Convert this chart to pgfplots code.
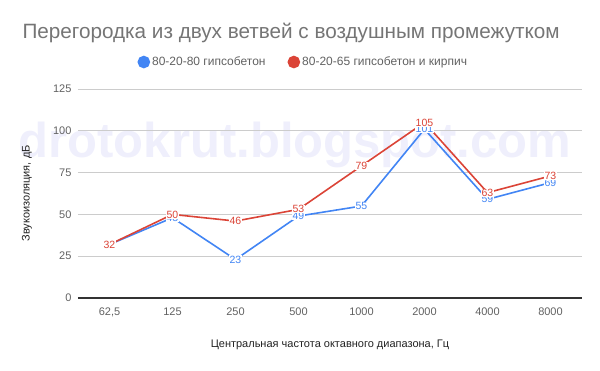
\documentclass[border=0pt]{standalone}
\usepackage{fontspec}
\setmainfont{Liberation Sans}
\usepackage{pgfplots}
\pgfplotsset{compat=1.18}
\definecolor{gblue}{HTML}{4285F4}
\definecolor{gred}{HTML}{DB4437}
\definecolor{wm}{HTML}{EFEFFC}
\definecolor{ttl}{HTML}{757575}
\definecolor{tck}{HTML}{616161}
\definecolor{lbl}{HTML}{222222}
\begin{document}
\begin{tikzpicture}[x=1pt,y=1pt]
\path[use as bounding box] (0pt,0pt) rectangle (600pt,371pt);
\node[anchor=west,text=ttl,font=\fontsize{20.7}{22}\selectfont] at (19pt,338pt) {Перегородка из двух ветвей с воздушным промежутком};
\node[font=\bfseries\fontsize{49}{49}\selectfont,text=wm] at (295pt,226pt) {drotokrut.blogspot.com};
\begin{axis}[
  at={(78pt,73pt)}, anchor=south west, scale only axis,
  width=504pt, height=209pt,
  xmin=-0.5, xmax=7.5, ymin=0, ymax=125,
  xtick={0,...,7},
  xticklabels={{62,5},125,250,500,1000,2000,4000,8000},
  ytick={0,25,50,75,100,125},
  ymajorgrids, grid style={draw=black!20, line width=0.8pt},
  axis x line*=bottom, axis y line*=left,
  x axis line style={-, draw=black!80, line width=1.2pt},
  y axis line style={draw=none},
  major tick length=0pt,
  ticklabel style={text=tck, font=\fontsize{11}{13}\selectfont},
  /pgf/number format/assume math mode=true,
  yticklabel style={xshift=-3pt},
  xticklabel style={yshift=-6pt},
  xlabel={Центральная частота октавного диапазона, Гц},
  ylabel={Звукоизоляция, дБ},
  label style={text=lbl, font=\fontsize{11}{13}\selectfont},
  xlabel style={at={(axis description cs:0.5,0)}, anchor=center, yshift=-47pt},
  ylabel style={at={(axis description cs:0,0.5)}, anchor=center, yshift=51pt},
  legend columns=2,
  legend style={at={(0.447,1.129)}, anchor=center, draw=none, fill=none,
    font=\fontsize{12}{14}\selectfont, text=tck,
    /tikz/every even column/.append style={column sep=20pt}},
  legend image code/.code={\fill (0.02cm,0) circle (5.5pt);},
  nodes near coords,
  nodes near coords align={center},
  every node near coord/.append style={anchor=center, font=\fontsize{10.5}{12}\selectfont, fill=white, inner sep=0.4pt},
  clip=false,
]
\addplot[gblue, line width=1.6pt, mark=none, every node near coord/.append style={text=gblue}] coordinates {
(0,32) (1,48) (2,23) (3,49) (4,55) (5,101) (6,59) (7,69)};
\addlegendentry{80-20-80 гипсобетон}
\addplot[gred, line width=1.6pt, mark=none, every node near coord/.append style={text=gred}] coordinates {
(0,32) (1,50) (2,46) (3,53) (4,79) (5,105) (6,63) (7,73)};
\addlegendentry{80-20-65 гипсобетон и кирпич}
\end{axis}
\end{tikzpicture}
\end{document}
